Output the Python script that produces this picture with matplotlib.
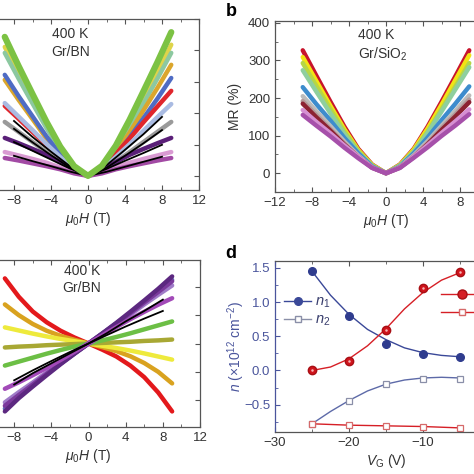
import matplotlib.pyplot as plt
from matplotlib.ticker import MultipleLocator
from matplotlib.lines import Line2D

plt.rcParams['font.family'] = ['Liberation Sans', 'DejaVu Sans']
plt.rcParams['mathtext.fontset'] = 'custom'
plt.rcParams['mathtext.rm'] = 'Liberation Sans'
plt.rcParams['mathtext.it'] = 'Liberation Sans:italic'

# ---- panel a: MR of Gr/BN at 400 K (left axis is cut off in the reference)
field_a = [-9, -7.5, -6, -4.5, -3, -1.5, 0, 1.5, 3, 4.5, 6, 7.5, 9]
mr_a = {
    '#ded44a': [411, 325, 242, 160, 86, 29, 0, 29, 88, 163, 247, 330, 418],
    '#8cc8a0': [392, 310, 231, 153, 82, 27, 0, 27, 82, 153, 231, 310, 392],
    '#dba62c': [306, 242, 181, 119, 64, 21, 0, 25, 74, 138, 209, 280, 354],
    '#4f6cc4': [322, 254, 190, 126, 68, 23, 0, 22, 66, 122, 184, 246, 312],
    '#e0262c': [223, 182, 140, 98, 58, 20, 0, 24, 70, 119, 171, 221, 271],
    '#a9bbe2': [232, 189, 146, 102, 60, 21, 0, 21, 60, 101, 144, 187, 229],
    '#9a9a9a': [172, 140, 108, 76, 45, 15, 0, 15, 45, 76, 108, 140, 172],
    '#5a1f78': [121, 104, 86, 67, 44, 17, 0, 17, 44, 67, 86, 104, 121],
    '#d99ad2': [76, 65, 54, 42, 27, 11, 0, 11, 27, 42, 54, 65, 76],
    '#a24aa4': [57, 49, 40, 31, 21, 8, 0, 8, 21, 31, 40, 49, 57],
}
mr_a_green = [443, 350, 261, 173, 93, 31, 0, 32, 96, 179, 270, 362, 458]
field_a_black = [-8, -6, -4, -2, 0, 2, 4, 6, 8]
mr_a_black = [
    [175, 124, 77, 32, 0, 34, 83, 133, 188],
    [150, 107, 66, 27, 0, 26, 64, 104, 146],
    [108, 80, 52, 24, 0, 22, 48, 73, 99],
    [64, 47, 31, 14, 0, 13, 29, 45, 61],
]

# ---- panel b: MR of Gr/SiO2 at 400 K
field_b = [-9, -7.5, -6, -4.5, -3, -1.5, 0, 1.5, 3, 4.5, 6, 7.5, 9]
mr_b = {
    '#c8142c': [327, 258, 190, 124, 65, 23, 0, 23, 65, 124, 190, 258, 327],
    '#f2e414': [309, 244, 179, 117, 62, 22, 0, 22, 63, 119, 182, 248, 314],
    '#b6d646': [293, 231, 170, 111, 59, 21, 0, 21, 59, 111, 170, 231, 293],
    '#8ecf9e': [274, 216, 159, 104, 55, 19, 0, 20, 56, 107, 164, 223, 282],
    '#3d8ccd': [229, 183, 140, 94, 53, 18, 0, 18, 53, 95, 141, 185, 231],
    '#bcbcbc': [205, 164, 125, 84, 47, 16, 0, 17, 48, 85, 126, 166, 207],
    '#b59a9a': [192, 154, 117, 79, 44, 15, 0, 16, 45, 80, 120, 157, 196],
    '#8c2232': [185, 148, 113, 76, 43, 15, 0, 15, 43, 77, 115, 151, 189],
    '#d690d2': [168, 136, 106, 74, 44, 15, 0, 15, 44, 75, 107, 138, 170],
    '#a650aa': [155, 126, 98, 68, 40, 14, 0, 14, 41, 69, 99, 127, 157],
}

# ---- panel c: Hall signal of Gr/BN at 400 K
field_c = [-9, -7.5, -6, -4.5, -3, -1.5, 0, 1.5, 3, 4.5, 6, 7.5, 9]
hall_c = {
    '#e3191c': [2.3, 1.65, 1.13, 0.75, 0.45, 0.21, 0, -0.22, -0.46, -0.78, -1.19, -1.73, -2.4],
    '#d9a21f': [1.38, 1.0, 0.69, 0.45, 0.27, 0.13, 0, -0.13, -0.27, -0.45, -0.69, -1.0, -1.41],
    '#eeea3c': [0.57, 0.46, 0.35, 0.25, 0.16, 0.08, 0, -0.08, -0.16, -0.25, -0.35, -0.46, -0.57],
    '#a8a834': [-0.14, -0.11, -0.09, -0.06, -0.04, -0.02, 0, 0.02, 0.04, 0.06, 0.09, 0.11, 0.14],
    '#6cbf45': [-0.78, -0.64, -0.5, -0.36, -0.23, -0.11, 0, 0.11, 0.23, 0.36, 0.5, 0.64, 0.78],
    '#5e6fb8': [-2.3, -1.85, -1.45, -1.08, -0.71, -0.35, 0, 0.35, 0.71, 1.08, 1.45, 1.84, 2.25],
    '#a07cc8': [-2.08, -1.72, -1.38, -1.02, -0.67, -0.33, 0, 0.33, 0.67, 1.02, 1.38, 1.72, 2.05],
    '#7b3a9c': [-2.2, -1.82, -1.45, -1.07, -0.7, -0.35, 0, 0.35, 0.7, 1.07, 1.45, 1.82, 2.2],
    '#5c2880': [-2.4, -1.93, -1.52, -1.12, -0.73, -0.36, 0, 0.36, 0.73, 1.12, 1.52, 1.93, 2.37],
    '#a24ab8': [-1.6, -1.37, -1.12, -0.86, -0.58, -0.29, 0, 0.29, 0.58, 0.86, 1.12, 1.37, 1.6],
}
field_c_black = [-8, -6, -4, -2, 0, 2, 4, 6, 8]
hall_c_black = [
    [-1.45, -1.05, -0.7, -0.35, 0, 0.37, 0.78, 1.15, 1.55],
    [-1.3, -0.95, -0.62, -0.3, 0, 0.3, 0.6, 0.88, 1.15],
]

# ---- panel d: carrier densities vs gate voltage
vg = [-25, -20, -15, -10, -5]
n1 = [1.45, 0.80, 0.39, 0.24, 0.19]
n2 = [-0.78, -0.44, -0.20, -0.12, -0.12]
p1 = [0.0, 0.14, 0.59, 1.21, 1.44]
p2 = [-0.78, -0.80, -0.81, -0.82, -0.84]
vg_fit = [-25, -22.5, -20, -17.5, -15, -12.5, -10, -7.5, -5]
n1_fit = [1.45, 1.10, 0.82, 0.60, 0.45, 0.33, 0.26, 0.22, 0.20]
n2_fit = [-0.78, -0.60, -0.44, -0.30, -0.20, -0.14, -0.11, -0.10, -0.11]
p1_fit = [0.0, 0.05, 0.17, 0.36, 0.61, 0.90, 1.14, 1.32, 1.43]
p2_fit = [-0.78, -0.79, -0.80, -0.805, -0.81, -0.815, -0.82, -0.83, -0.84]

field_ticks = [-12, -8, -4, 0, 4, 8, 12]
TXT = '#333333'
BLUE = '#4a559c'
W = 474.0

fig = plt.figure(figsize=(4.74, 4.74), dpi=100)


def add_ax(left, top, right, bottom):
    return fig.add_axes([left / W, 1 - bottom / W, (right - left) / W, (bottom - top) / W])


def style(ax):
    for s in ax.spines.values():
        s.set_color('#555555')
        s.set_linewidth(0.9)
    ax.tick_params(which='both', direction='in', top=True, right=True,
                   labelsize=9.5, colors='#555555', labelcolor=TXT)
    ax.tick_params(which='major', length=3.5)
    ax.tick_params(which='minor', length=2)


def field_axis(ax, hidden):
    # labels of ticks that fall outside the cropped picture are left empty
    ax.set_xlim(-12, 12)
    ax.xaxis.set_minor_locator(MultipleLocator(2))
    ax.set_xticks(field_ticks)
    ax.set_xticklabels(['' if t in hidden else str(t).replace('-', '\u2212')
                        for t in field_ticks])
    ax.set_xlabel(r'$\mu_0H$ (T)', fontsize=10, color=TXT, labelpad=2)


# panel a (its y labels lie outside the cropped picture)
ax = add_ax(-23, 19, 199, 190)
style(ax)
field_axis(ax, [-12])
for c, y in mr_a.items():
    ax.plot(field_a, y, color=c, lw=3.2, solid_capstyle='round')
for y in mr_a_black:
    ax.plot(field_a_black, y, color='black', lw=1.3)
ax.plot(field_a, mr_a_green, color='#7cc244', lw=4.5, solid_capstyle='round')
ax.set_ylim(-45, 500)
ax.yaxis.set_major_locator(MultipleLocator(100))
ax.tick_params(axis='y', labelleft=False)
ax.text(0.42, 0.955, '400 K\nGr/BN', transform=ax.transAxes, ha='center', va='top',
        fontsize=10, color=TXT, linespacing=1.35)

# panel b
ax = add_ax(275, 21, 497, 192)
style(ax)
field_axis(ax, [12])
for c, y in mr_b.items():
    ax.plot(field_b, y, color=c, lw=3.2, solid_capstyle='round')
ax.set_ylim(-50, 405)
ax.yaxis.set_major_locator(MultipleLocator(100))
ax.yaxis.set_minor_locator(MultipleLocator(50))
ax.set_ylabel('MR (%)', fontsize=10, color=TXT, labelpad=4)
ax.text(0.375, 0.96, '400 K\nGr/SiO$_2$', transform=ax.transAxes, ha='left', va='top',
        fontsize=10, color=TXT, linespacing=1.3)
fig.text(231 / W, 1 - 12 / W, 'b', fontsize=13, fontweight='bold', ha='center', va='center')

# panel c
ax = add_ax(-23, 260, 200, 427)
style(ax)
field_axis(ax, [-12])
for c, y in hall_c.items():
    ax.plot(field_c, y, color=c, lw=3.2, solid_capstyle='round')
for y in hall_c_black:
    ax.plot(field_c_black, y, color='black', lw=1.3)
ax.set_ylim(-2.95, 2.95)
ax.yaxis.set_major_locator(MultipleLocator(1))
ax.tick_params(axis='y', labelleft=False)
ax.text(0.47, 0.975, '400 K\nGr/BN', transform=ax.transAxes, ha='center', va='top',
        fontsize=10, color=TXT, linespacing=1.3)

# panel d
ax = add_ax(275, 261, 497, 432)
style(ax)
ax.spines['left'].set_color(BLUE)
ax.tick_params(axis='y', which='both', colors=BLUE, labelcolor=BLUE)
ax.set_xlim(-30, 0)
ax.set_ylim(-0.9, 1.6)
ax.xaxis.set_minor_locator(MultipleLocator(5))
ax.yaxis.set_minor_locator(MultipleLocator(0.25))
ax.set_xticks([-30, -20, -10])
ax.set_xticklabels(['\u221230', '\u221220', '\u221210'])
ax.set_yticks([-0.5, 0, 0.5, 1.0, 1.5])
ax.set_yticklabels(['\u22120.5', '0.0', '0.5', '1.0', '1.5'])

ax.plot(vg_fit, n1_fit, color='#3a4898', lw=1)
ax.plot(vg_fit, n2_fit, color='#5d6aa8', lw=1)
ax.plot(vg_fit, p1_fit, color='#d61f26', lw=1)
ax.plot(vg_fit, p2_fit, color='#d61f26', lw=1)
ax.plot(vg, n1, 'o', color='#2f3c8e', ms=5.5)
ax.plot(vg, n2, 's', mfc='white', mec='#8a8fa8', ms=5, mew=0.9)
ax.plot(vg, p1, 'o', color='#d0141c', mec='#a80f14', ms=6)
ax.plot(vg, p1, 'o', color='#f7b4b4', ms=1.8, mew=0)
ax.plot(vg, p2, 's', mfc='white', mec='#d66a6a', ms=5, mew=0.9)

h_n1 = Line2D([], [], color='#3a4898', marker='o', ms=5.5, lw=1)
h_n2 = Line2D([], [], color='#8a8fa8', marker='s', mfc='white', ms=5, lw=1)
leg = ax.legend([h_n1, h_n2], ['$n_1$', '$n_2$'], loc='upper left',
                bbox_to_anchor=(-0.02, 0.88), frameon=False, fontsize=10.5,
                handlelength=1.9, handletextpad=0.25, labelspacing=0.2, labelcolor='#3a3f6e')
ax.add_artist(leg)
# the labels of this legend fall outside the cropped picture
h_p1 = Line2D([], [], color='#d61f26', marker='o', mec='#a80f14', ms=6.5, lw=1)
h_p2 = Line2D([], [], color='#d61f26', marker='s', mfc='white', mec='#d66a6a', ms=5, lw=1)
ax.legend([h_p1, h_p2], [' ', ' '], loc='upper left',
          bbox_to_anchor=(0.69, 0.92), frameon=False, fontsize=10.5,
          handlelength=2.9, handletextpad=0.3, labelspacing=0.3)

ax.set_xlabel(r'$V_{\rm G}$ (V)', fontsize=10, color=TXT, labelpad=2)
ax.set_ylabel(r'$n$ ($\times$10$^{12}$ cm$^{-2}$)', fontsize=10, color=BLUE, labelpad=-2)
fig.text(231 / W, 1 - 254 / W, 'd', fontsize=13, fontweight='bold', ha='center', va='center')

fig.savefig('out.png', dpi=100)
